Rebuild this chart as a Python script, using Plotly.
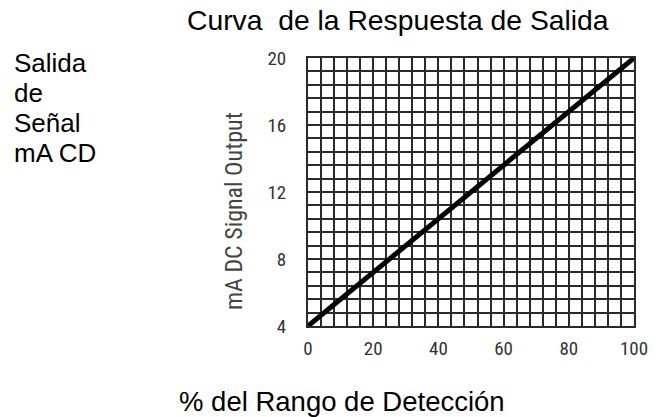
import plotly.graph_objects as go

# Data
pct_range = [0, 20, 40, 60, 80, 100]
ma_output = [4.0, 7.2, 10.4, 13.6, 16.8, 20.0]

x_ticks = [0, 20, 40, 60, 80, 100]
y_ticks = [4, 8, 12, 16, 20]

title_text = "Curva  de la Respuesta de Salida"
x_title = "% del Rango de Detección"
y_title = "mA DC Signal Output"
side_lines = ["Salida", "de", "Señal", "mA CD"]

narrow = "Liberation Sans Narrow, Arial Narrow, Roboto Condensed, DejaVu Sans Condensed, sans-serif"
sans = "Liberation Sans, Arial, sans-serif"
gridc = "#2a2a2a"

W, H = 660, 417
ML, MR, MT, MB = 308, 17, 58, 91
PW = W - ML - MR
PH = H - MT - MB


def paper(px, py):
    return (px - ML) / PW, 1 - (py - MT) / PH


fig = go.Figure()
fig.add_trace(go.Scatter(x=pct_range, y=ma_output, mode="lines",
                         line=dict(color="black", width=5), showlegend=False,
                         hoverinfo="skip"))

fig.update_layout(
    width=W, height=H, autosize=False,
    margin=dict(l=ML, r=MR, t=MT, b=MB),
    paper_bgcolor="white", plot_bgcolor="white",
    showlegend=False,
    xaxis=dict(range=[0, 100], tickvals=x_ticks, ticktext=[str(v) for v in x_ticks],
               showgrid=True, gridcolor=gridc, gridwidth=2,
               minor=dict(dtick=4, tick0=0, showgrid=True, gridcolor=gridc, gridwidth=2),
               showline=True, mirror=True, linecolor=gridc, linewidth=2,
               zeroline=False, ticks="", ticklabelstandoff=4,
               tickfont=dict(family=narrow, size=19, color="#333")),
    yaxis=dict(range=[4, 20], tickvals=y_ticks, ticktext=[str(v) for v in y_ticks],
               showgrid=True, gridcolor=gridc, gridwidth=2,
               minor=dict(dtick=0.8, tick0=4, showgrid=True, gridcolor=gridc, gridwidth=2),
               showline=True, mirror=True, linecolor=gridc, linewidth=2,
               zeroline=False, ticks="", ticklabelstandoff=16,
               tickfont=dict(family=narrow, size=19, color="#333")),
)

ann = []
x, y = paper(400, 20)
ann.append(dict(text=title_text, x=x, y=y, xanchor="center", yanchor="middle",
                font=dict(family=sans, size=28.3, color="black")))
x, y = paper(343, 401)
ann.append(dict(text=x_title, x=x, y=y, xanchor="center", yanchor="middle",
                font=dict(family=sans, size=27.5, color="black")))
x, y = paper(232, 211)
ann.append(dict(text=y_title, x=x, y=y, xanchor="center", yanchor="middle", textangle=-90,
                font=dict(family=narrow, size=24, color="#444")))
for i, s in enumerate(side_lines):
    x, y = paper(4, 63 + 30 * i)
    ann.append(dict(text=s, x=x, y=y, xanchor="left", yanchor="middle",
                    font=dict(family=sans, size=26, color="black")))
for a in ann:
    a.update(xref="paper", yref="paper", showarrow=False)
fig.update_layout(annotations=ann)

fig.write_html("out.html",
               config={"displayModeBar": False},
               post_script="document.body.style.margin='0';document.body.style.overflow='hidden';")
